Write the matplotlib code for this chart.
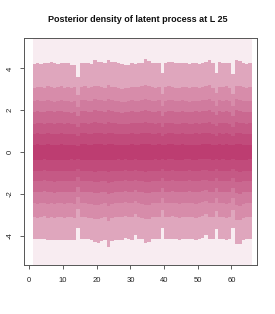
import numpy as np
import matplotlib
matplotlib.use("Agg")
import matplotlib.pyplot as plt

# fan chart quantile bounds per time step (outer -> inner)
steps = list(range(1, 66))

upper_1 = [4.19, 4.24, 4.22, 4.24, 4.25, 4.29, 4.24, 4.22, 4.27, 4.24, 4.24, 4.18, 4.16,
           3.60, 4.28, 4.27, 4.26, 4.22, 4.38, 4.30, 4.30, 4.28, 4.40, 4.30, 4.29, 4.24,
           4.22, 4.16, 4.18, 4.24, 4.23, 4.24, 4.26, 4.45, 4.35, 4.27, 4.27, 4.25, 3.76,
           4.27, 4.30, 4.30, 4.25, 4.24, 4.27, 4.24, 4.22, 4.26, 4.24, 4.22, 4.25, 4.30,
           4.42, 4.24, 3.76, 4.30, 4.27, 4.28, 4.24, 3.74, 4.40, 4.36, 4.25, 4.22, 4.24]
lower_1 = [-4.17, -4.17, -4.17, -4.15, -4.20, -4.22, -4.22, -4.22, -4.20, -4.22, -4.22, -4.22, -4.22,
           -3.62, -4.17, -4.17, -4.17, -4.20, -4.30, -4.33, -4.25, -4.22, -4.53, -4.25, -4.22, -4.22,
           -4.22, -4.10, -4.15, -4.20, -3.99, -4.17, -4.17, -4.33, -4.30, -4.17, -4.17, -4.17, -3.62,
           -4.17, -4.17, -4.15, -4.17, -4.20, -4.17, -4.17, -4.15, -4.17, -4.20, -4.17, -4.10, -3.99,
           -4.15, -4.17, -3.70, -4.17, -4.17, -4.20, -4.17, -3.65, -4.38, -4.40, -4.20, -4.17, -4.17]

upper_2 = [3.08, 3.12, 3.10, 3.06, 3.14, 3.10, 3.05, 3.12, 3.16, 3.08, 3.10, 3.04, 3.09,
           2.72, 3.12, 3.15, 3.08, 3.10, 3.18, 3.14, 3.12, 3.07, 3.20, 3.13, 3.10, 3.06,
           3.02, 3.05, 3.08, 3.12, 3.10, 3.09, 3.14, 3.22, 3.16, 3.10, 3.08, 3.12, 2.78,
           3.10, 3.15, 3.12, 3.08, 3.06, 3.12, 3.10, 3.05, 3.09, 3.11, 3.07, 3.12, 3.14,
           3.20, 3.08, 2.80, 3.12, 3.10, 3.14, 3.08, 2.76, 3.18, 3.16, 3.10, 3.06, 3.10]
lower_2 = [-3.10, -3.14, -3.12, -3.08, -3.15, -3.12, -3.16, -3.10, -3.13, -3.15, -3.12, -3.10, -3.14,
           -2.74, -3.10, -3.12, -3.14, -3.16, -3.22, -3.20, -3.15, -3.12, -3.28, -3.16, -3.12, -3.10,
           -3.12, -3.06, -3.10, -3.12, -2.98, -3.12, -3.14, -3.22, -3.20, -3.12, -3.10, -3.12, -2.76,
           -3.12, -3.10, -3.08, -3.12, -3.14, -3.12, -3.10, -3.09, -3.12, -3.14, -3.10, -3.06, -2.98,
           -3.10, -3.12, -2.80, -3.12, -3.10, -3.14, -3.12, -2.78, -3.24, -3.25, -3.14, -3.12, -3.10]

upper_3 = [2.44, 2.47, 2.45, 2.42, 2.48, 2.46, 2.41, 2.46, 2.50, 2.44, 2.45, 2.40, 2.44,
           2.15, 2.47, 2.49, 2.44, 2.45, 2.52, 2.48, 2.47, 2.43, 2.54, 2.48, 2.45, 2.42,
           2.39, 2.41, 2.44, 2.47, 2.45, 2.45, 2.48, 2.56, 2.50, 2.45, 2.44, 2.47, 2.20,
           2.45, 2.49, 2.47, 2.44, 2.42, 2.47, 2.45, 2.41, 2.44, 2.46, 2.43, 2.47, 2.48,
           2.53, 2.44, 2.22, 2.47, 2.45, 2.48, 2.44, 2.18, 2.52, 2.50, 2.45, 2.42, 2.45]
lower_3 = [-2.44, -2.47, -2.45, -2.42, -2.48, -2.46, -2.49, -2.44, -2.46, -2.48, -2.45, -2.44, -2.47,
           -2.16, -2.44, -2.45, -2.47, -2.48, -2.53, -2.52, -2.48, -2.45, -2.58, -2.49, -2.45, -2.44,
           -2.45, -2.41, -2.44, -2.45, -2.35, -2.45, -2.47, -2.53, -2.52, -2.45, -2.44, -2.45, -2.18,
           -2.45, -2.44, -2.42, -2.45, -2.47, -2.45, -2.44, -2.43, -2.45, -2.47, -2.44, -2.41, -2.35,
           -2.44, -2.45, -2.21, -2.45, -2.44, -2.47, -2.45, -2.19, -2.55, -2.56, -2.47, -2.45, -2.44]

upper_4 = [1.92, 1.95, 1.93, 1.90, 1.96, 1.94, 1.90, 1.94, 1.97, 1.92, 1.93, 1.89, 1.92,
           1.70, 1.95, 1.96, 1.92, 1.93, 1.99, 1.96, 1.95, 1.91, 2.00, 1.96, 1.93, 1.91,
           1.88, 1.90, 1.92, 1.95, 1.93, 1.93, 1.95, 2.02, 1.97, 1.93, 1.92, 1.95, 1.73,
           1.93, 1.96, 1.95, 1.92, 1.90, 1.95, 1.93, 1.90, 1.92, 1.94, 1.91, 1.95, 1.96,
           1.99, 1.92, 1.75, 1.95, 1.93, 1.96, 1.92, 1.72, 1.99, 1.97, 1.93, 1.90, 1.93]
lower_4 = [-1.90, -1.92, -1.90, -1.88, -1.93, -1.91, -1.94, -1.90, -1.91, -1.93, -1.90, -1.89, -1.92,
           -1.68, -1.90, -1.91, -1.92, -1.93, -1.97, -1.96, -1.93, -1.90, -2.01, -1.94, -1.90, -1.89,
           -1.90, -1.87, -1.89, -1.90, -1.83, -1.90, -1.92, -1.97, -1.96, -1.90, -1.89, -1.90, -1.70,
           -1.90, -1.89, -1.88, -1.90, -1.92, -1.90, -1.89, -1.88, -1.90, -1.92, -1.89, -1.87, -1.83,
           -1.89, -1.90, -1.72, -1.90, -1.89, -1.92, -1.90, -1.70, -1.98, -1.99, -1.92, -1.90, -1.89]

upper_5 = [1.36, 1.39, 1.37, 1.35, 1.40, 1.38, 1.34, 1.38, 1.41, 1.36, 1.37, 1.33, 1.36,
           1.20, 1.39, 1.40, 1.36, 1.37, 1.42, 1.40, 1.39, 1.35, 1.43, 1.40, 1.37, 1.35,
           1.33, 1.34, 1.36, 1.39, 1.37, 1.37, 1.39, 1.44, 1.41, 1.37, 1.36, 1.39, 1.22,
           1.37, 1.40, 1.39, 1.36, 1.34, 1.39, 1.37, 1.34, 1.36, 1.38, 1.35, 1.39, 1.40,
           1.42, 1.36, 1.24, 1.39, 1.37, 1.40, 1.36, 1.21, 1.42, 1.41, 1.37, 1.34, 1.37]
lower_5 = [-1.37, -1.39, -1.38, -1.36, -1.40, -1.38, -1.41, -1.37, -1.38, -1.40, -1.38, -1.37, -1.39,
           -1.21, -1.37, -1.38, -1.39, -1.40, -1.43, -1.42, -1.40, -1.38, -1.46, -1.41, -1.38, -1.37,
           -1.38, -1.35, -1.37, -1.38, -1.32, -1.38, -1.39, -1.43, -1.42, -1.38, -1.37, -1.38, -1.23,
           -1.38, -1.37, -1.36, -1.38, -1.39, -1.38, -1.37, -1.36, -1.38, -1.39, -1.37, -1.35, -1.32,
           -1.37, -1.38, -1.25, -1.38, -1.37, -1.39, -1.38, -1.23, -1.43, -1.44, -1.39, -1.38, -1.37]

upper_6 = [0.87, 0.89, 0.88, 0.86, 0.90, 0.88, 0.86, 0.88, 0.91, 0.87, 0.88, 0.85, 0.87,
           0.77, 0.89, 0.90, 0.87, 0.88, 0.92, 0.90, 0.89, 0.87, 0.93, 0.90, 0.88, 0.86,
           0.85, 0.86, 0.87, 0.89, 0.88, 0.88, 0.89, 0.93, 0.91, 0.88, 0.87, 0.89, 0.78,
           0.88, 0.90, 0.89, 0.87, 0.86, 0.89, 0.88, 0.86, 0.87, 0.89, 0.87, 0.89, 0.90,
           0.92, 0.87, 0.79, 0.89, 0.88, 0.90, 0.87, 0.78, 0.92, 0.91, 0.88, 0.86, 0.88]
lower_6 = [-0.89, -0.91, -0.90, -0.88, -0.91, -0.90, -0.92, -0.89, -0.90, -0.91, -0.90, -0.89, -0.91,
           -0.79, -0.89, -0.90, -0.91, -0.91, -0.94, -0.93, -0.91, -0.90, -0.95, -0.92, -0.90, -0.89,
           -0.90, -0.88, -0.89, -0.90, -0.86, -0.90, -0.91, -0.94, -0.93, -0.90, -0.89, -0.90, -0.80,
           -0.90, -0.89, -0.88, -0.90, -0.91, -0.90, -0.89, -0.88, -0.90, -0.91, -0.89, -0.88, -0.86,
           -0.89, -0.90, -0.81, -0.90, -0.89, -0.91, -0.90, -0.80, -0.93, -0.94, -0.91, -0.90, -0.89]

upper_7 = [0.35, 0.37, 0.36, 0.34, 0.37, 0.36, 0.35, 0.36, 0.38, 0.35, 0.36, 0.34, 0.35,
           0.31, 0.37, 0.37, 0.35, 0.36, 0.38, 0.37, 0.37, 0.35, 0.39, 0.37, 0.36, 0.35,
           0.34, 0.35, 0.35, 0.37, 0.36, 0.36, 0.37, 0.39, 0.38, 0.36, 0.35, 0.37, 0.32,
           0.36, 0.37, 0.37, 0.35, 0.35, 0.37, 0.36, 0.35, 0.35, 0.36, 0.35, 0.37, 0.37,
           0.38, 0.35, 0.32, 0.37, 0.36, 0.37, 0.35, 0.32, 0.38, 0.38, 0.36, 0.35, 0.36]
lower_7 = [-0.36, -0.37, -0.36, -0.35, -0.37, -0.36, -0.37, -0.36, -0.36, -0.37, -0.36, -0.35, -0.37,
           -0.32, -0.36, -0.36, -0.37, -0.37, -0.38, -0.38, -0.37, -0.36, -0.39, -0.37, -0.36, -0.35,
           -0.36, -0.35, -0.36, -0.36, -0.34, -0.36, -0.37, -0.38, -0.38, -0.36, -0.35, -0.36, -0.32,
           -0.36, -0.35, -0.35, -0.36, -0.37, -0.36, -0.35, -0.35, -0.36, -0.37, -0.35, -0.35, -0.34,
           -0.35, -0.36, -0.33, -0.36, -0.35, -0.37, -0.36, -0.32, -0.38, -0.38, -0.37, -0.36, -0.35]

# full posterior range runs beyond the plot region
full_upper = 6.0
full_lower = -6.0

x_ticks = [0, 10, 20, 30, 40, 50, 60]
y_ticks = [-4, -2, 0, 2, 4]
title = "Posterior density of latent process at L 25"

band_colors = ["#f8ecf1", "#dfa6bd", "#d78caa", "#d07b9e", "#ca6890",
               "#c55985", "#c14b7b", "#bd3d71"]

plt.rcParams['font.family'] = ['Liberation Sans', 'DejaVu Sans']

fig = plt.figure(figsize=(2.75, 3.14), dpi=100)
ax = fig.add_axes([0.0862, 0.155, 0.8473, 0.723])

edges = np.append(steps, steps[-1] + 1)
n = len(steps)
ax.stairs(np.full(n, full_upper), edges, baseline=np.full(n, full_lower),
          fill=True, color=band_colors[0], linewidth=0)

bounds = [(upper_1, lower_1), (upper_2, lower_2), (upper_3, lower_3),
          (upper_4, lower_4), (upper_5, lower_5), (upper_6, lower_6),
          (upper_7, lower_7)]
for (up, lo), c in zip(bounds, band_colors[1:]):
    ax.stairs(up, edges, baseline=lo, fill=True, color=c, linewidth=0)

ax.set_xlim(-1.66, 67.5)
ax.set_ylim(-5.42, 5.44)
ax.set_xticks(x_ticks)
ax.set_yticks(y_ticks)
ax.set_xticklabels([str(t) for t in x_ticks])
ax.set_yticklabels([str(t) for t in y_ticks], rotation=90, va='center')
ax.tick_params(direction='out', length=3, width=0.6, color='#444444',
               labelsize=5.5, labelcolor='#222222')
ax.tick_params(axis='x', pad=5.2)
ax.tick_params(axis='y', pad=4)
for s in ax.spines.values():
    s.set_color('#555555')
    s.set_linewidth(0.7)

fig.text(0.5, 1 - 19 / 314, title, ha='center', va='center',
         fontsize=6.5, fontweight='bold', color='#111111')

fig.savefig("out.png", dpi=100)
plt.close(fig)
